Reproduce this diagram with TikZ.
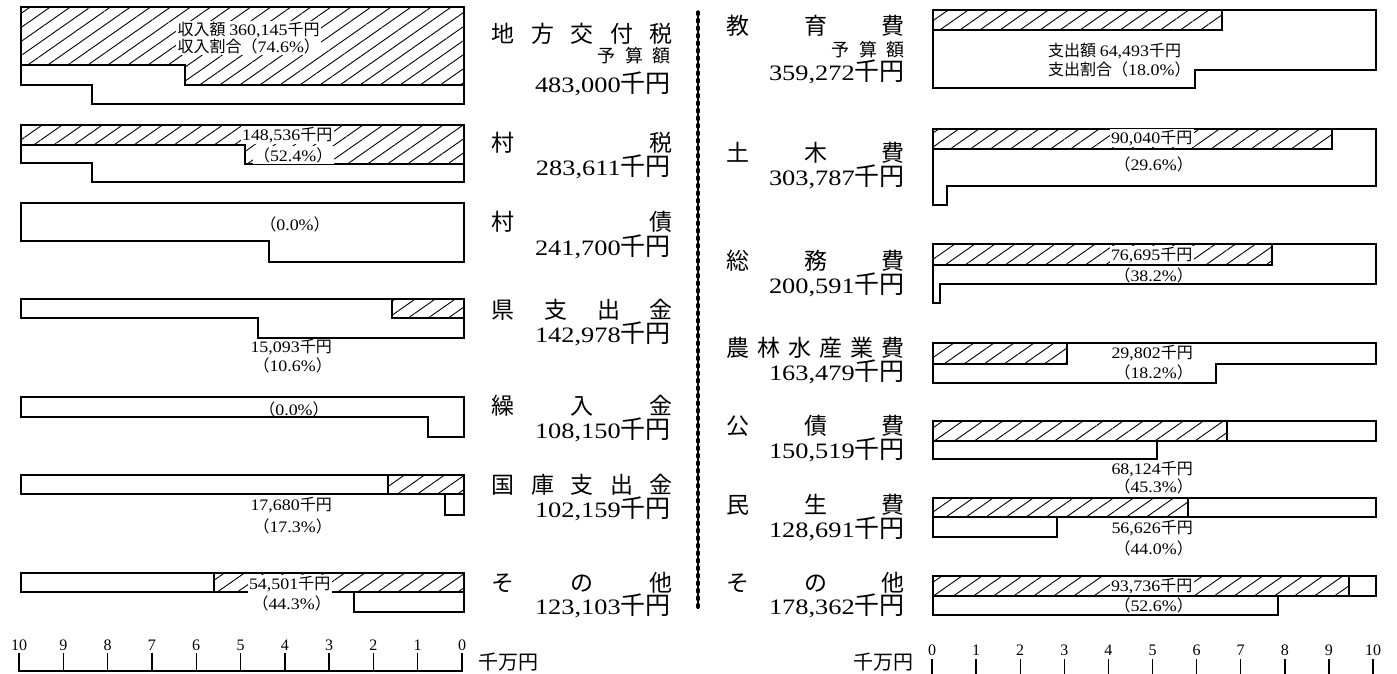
\documentclass[tikz,border=0pt]{standalone}
\usepackage{fontspec}
\setmainfont{Liberation Serif}
\newfontfamily\jp{Noto Sans CJK JP}
\newfontfamily\dg[FakeStretch=1.2]{Liberation Serif}
\newfontfamily\dgs[FakeStretch=1.12]{Liberation Serif}
\usetikzlibrary{patterns.meta}
\newcommand\BigAmt[1]{{\fontsize{22}{24}\selectfont\dg #1}{\fontsize{25}{27}\selectfont\jp 千円}}
\newcommand\SmAmt[1]{{\fontsize{16}{18}\selectfont\dgs #1}{\fontsize{16}{18}\selectfont\jp 千円}}
\newcommand\SmPct[1]{{\fontsize{16}{18}\selectfont\jp （}{\fontsize{16}{18}\selectfont\dgs #1\%}{\fontsize{16}{18}\selectfont\jp ）}}
\newcommand\Ttl[2]{\makebox[#1pt]{\fontsize{23}{25}\selectfont\jp #2}}
\newcommand\Yosan{\makebox[73pt]{\fontsize{18}{20}\selectfont\jp 予\hfill 算\hfill 額}}
\tikzset{
  bar/.style={draw, line width=1.5pt, line join=miter},
  hat/.style={draw, line width=1.5pt, line join=miter, pattern={Lines[angle=35,distance=11.5pt,line width=0.9pt]}},
  ttl/.style={inner sep=0pt, anchor=east},
  sm/.style={inner sep=1pt},
  smw/.style={inner sep=1.5pt, fill=white},
  axn/.style={inner sep=0pt, font=\fontsize{16}{18}\selectfont},
  tick/.style={line width=1.4pt},
}
\begin{document}
\begin{tikzpicture}[x=1pt,y=-1pt]
\useasboundingbox (0,0) rectangle (1397,674);
% ---------------- left (revenue) bars ----------------
\path[hat] (21,7) -- (464,7) -- (464,85) -- (185,85) -- (185,65) -- (21,65) -- cycle;
\draw[bar] (21,7) -- (464,7) -- (464,104) -- (92,104) -- (92,85) -- (21,85) -- cycle;
\path[hat] (21,125) -- (464,125) -- (464,164) -- (245,164) -- (245,145) -- (21,145) -- cycle;
\draw[bar] (21,125) -- (464,125) -- (464,182) -- (92,182) -- (92,163) -- (21,163) -- cycle;
\draw[bar] (21,203) -- (464,203) -- (464,262) -- (269,262) -- (269,241) -- (21,241) -- cycle;
\path[hat] (392,299) rectangle (464,318);
\draw[bar] (21,299) -- (464,299) -- (464,338) -- (258,338) -- (258,318) -- (21,318) -- cycle;
\draw[bar] (21,397) -- (464,397) -- (464,437) -- (428,437) -- (428,417) -- (21,417) -- cycle;
\path[hat] (388,475) rectangle (464,494);
\draw[bar] (21,475) -- (464,475) -- (464,515) -- (445,515) -- (445,494) -- (21,494) -- cycle;
\path[hat] (214,573) rectangle (464,592);
\draw[bar] (21,573) -- (464,573) -- (464,612) -- (354,612) -- (354,592) -- (21,592) -- cycle;
% left bar labels
\node[smw, anchor=west] (L1a) at (176,30) {{\fontsize{16}{18}\selectfont\jp 収入額 }\SmAmt{360,145}};
\node[smw, anchor=west] (L1p) at (176,46) {{\fontsize{16}{18}\selectfont\jp 収入割合}\SmPct{74.6}};
\node[smw, anchor=east] (L2a) at (334,135) {\SmAmt{148,536}};
\node[smw, anchor=east] (L2p) at (334,155) {\SmPct{52.4}};
\node[sm] (L3p) at (295,224) {\SmPct{0.0}};
\node[sm, anchor=east] (L4a) at (333,347) {\SmAmt{15,093}};
\node[sm, anchor=east] (L4p) at (333,365) {\SmPct{10.6}};
\node[sm] (L5p) at (294,409) {\SmPct{0.0}};
\node[sm, anchor=east] (L6a) at (333,505) {\SmAmt{17,680}};
\node[sm, anchor=east] (L6p) at (333,526) {\SmPct{17.3}};
\node[smw, anchor=east] (L7a) at (332,584) {\SmAmt{54,501}};
\node[sm, anchor=east] (L7p) at (332,603) {\SmPct{44.3}};
% ---------------- left (revenue) names ----------------
\node[ttl] (L1n) at (673,34) {\Ttl{181}{地\hfill 方\hfill 交\hfill 付\hfill 税}};
\node[ttl] (L1y) at (671,56) {\Yosan};
\node[ttl] (L1m) at (671,84) {\BigAmt{483,000}};
\node[ttl] (L2n) at (673,143) {\Ttl{181}{村\hfill 税}};
\node[ttl] (L2m) at (671,167) {\BigAmt{283,611}};
\node[ttl] (L3n) at (673,222) {\Ttl{181}{村\hfill 債}};
\node[ttl] (L3m) at (671,247) {\BigAmt{241,700}};
\node[ttl] (L4n) at (673,310) {\Ttl{181}{県\hfill 支\hfill 出\hfill 金}};
\node[ttl] (L4m) at (671,334) {\BigAmt{142,978}};
\node[ttl] (L5n) at (673,406) {\Ttl{181}{繰\hfill 入\hfill 金}};
\node[ttl] (L5m) at (671,430) {\BigAmt{108,150}};
\node[ttl] (L6n) at (673,485) {\Ttl{181}{国\hfill 庫\hfill 支\hfill 出\hfill 金}};
\node[ttl] (L6m) at (671,509) {\BigAmt{102,159}};
\node[ttl] (L7n) at (673,583) {\Ttl{181}{そ\hfill の\hfill 他}};
\node[ttl] (L7m) at (671,606) {\BigAmt{123,103}};
% ---------------- divider ----------------
\coordinate (d1) at (698,12);
\coordinate (d2) at (698,609);
\draw[line width=1.1pt] (d1) -- (d2);
\draw[line width=3.4pt, line cap=round, dash pattern=on 2.5pt off 5pt] (d1) -- (d2);
% ---------------- right (expenditure) names ----------------
\node[ttl] (R1n) at (905,26) {\Ttl{178}{教\hfill 育\hfill 費}};
\node[ttl] (R1y) at (905,50) {\Yosan};
\node[ttl] (R1m) at (905,72) {\BigAmt{359,272}};
\node[ttl] (R2n) at (905,153) {\Ttl{178}{土\hfill 木\hfill 費}};
\node[ttl] (R2m) at (905,177) {\BigAmt{303,787}};
\node[ttl] (R3n) at (905,261) {\Ttl{178}{総\hfill 務\hfill 費}};
\node[ttl] (R3m) at (905,285) {\BigAmt{200,591}};
\node[ttl] (R4n) at (905,348) {\Ttl{178}{農\hfill 林\hfill 水\hfill 産\hfill 業\hfill 費}};
\node[ttl] (R4m) at (905,372) {\BigAmt{163,479}};
\node[ttl] (R5n) at (905,426) {\Ttl{178}{公\hfill 債\hfill 費}};
\node[ttl] (R5m) at (905,450) {\BigAmt{150,519}};
\node[ttl] (R6n) at (905,505) {\Ttl{178}{民\hfill 生\hfill 費}};
\node[ttl] (R6m) at (905,529) {\BigAmt{128,691}};
\node[ttl] (R7n) at (905,583) {\Ttl{178}{そ\hfill の\hfill 他}};
\node[ttl] (R7m) at (905,606) {\BigAmt{178,362}};
% ---------------- right (expenditure) bars ----------------
\path[hat] (933,10) rectangle (1222,30);
\draw[bar] (933,10) -- (1376,10) -- (1376,70) -- (1195,70) -- (1195,88) -- (933,88) -- cycle;
\path[hat] (933,129) rectangle (1332,149);
\draw[bar] (933,129) -- (1376,129) -- (1376,186) -- (947,186) -- (947,205) -- (933,205) -- cycle;
\path[hat] (933,244) rectangle (1272,265);
\draw[bar] (933,244) -- (1376,244) -- (1376,284) -- (940,284) -- (940,303) -- (933,303) -- cycle;
\path[hat] (933,343) rectangle (1067,364);
\draw[bar] (933,343) -- (1376,343) -- (1376,364) -- (1216,364) -- (1216,383) -- (933,383) -- cycle;
\path[hat] (933,421) rectangle (1227,441);
\draw[bar] (933,421) -- (1376,421) -- (1376,441) -- (1157,441) -- (1157,459) -- (933,459) -- cycle;
\path[hat] (933,498) rectangle (1188,517);
\draw[bar] (933,498) -- (1376,498) -- (1376,517) -- (1057,517) -- (1057,537) -- (933,537) -- cycle;
\path[hat] (933,576) rectangle (1349,596);
\draw[bar] (933,576) -- (1376,576) -- (1376,596) -- (1278,596) -- (1278,615) -- (933,615) -- cycle;
% right bar labels
\node[sm, anchor=west] (R1a) at (1047,51) {{\fontsize{16}{18}\selectfont\jp 支出額 }\SmAmt{64,493}};
\node[sm, anchor=west] (R1p) at (1047,69) {{\fontsize{16}{18}\selectfont\jp 支出割合}\SmPct{18.0}};
\node[smw, anchor=east] (R2a) at (1194,138) {\SmAmt{90,040}};
\node[sm, anchor=east] (R2p) at (1194,164) {\SmPct{29.6}};
\node[smw, anchor=east] (R3a) at (1194,255) {\SmAmt{76,695}};
\node[sm, anchor=east] (R3p) at (1194,275) {\SmPct{38.2}};
\node[sm, anchor=east] (R4a) at (1194,353) {\SmAmt{29,802}};
\node[sm, anchor=east] (R4p) at (1194,372) {\SmPct{18.2}};
\node[sm, anchor=east] (R5a) at (1194,469) {\SmAmt{68,124}};
\node[sm, anchor=east] (R5p) at (1194,486) {\SmPct{45.3}};
\node[sm, anchor=east] (R6a) at (1194,528) {\SmAmt{56,626}};
\node[sm, anchor=east] (R6p) at (1194,548) {\SmPct{44.0}};
\node[smw, anchor=east] (R7a) at (1194,586) {\SmAmt{93,736}};
\node[sm, anchor=east] (R7p) at (1194,605) {\SmPct{52.6}};
% ---------------- axes ----------------
\foreach \k in {0,...,10} {
  \node[axn] (la\k) at ({462-44.3*\k},645) {\k};
  \draw[tick] ({462-44.3*\k},653) -- ({462-44.3*\k},671);
  \node[axn] (ra\k) at ({932+44.1*\k},650) {\k};
  \draw[tick] ({932+44.1*\k},659) -- ({932+44.1*\k},674);
}
\coordinate (lb0) at (462.7,671);
\coordinate (lb10) at (18.3,671);
\draw[tick] (lb0) -- (lb10);
\node[inner sep=0pt] (lu) at (508,662) {\fontsize{20}{22}\selectfont\jp 千万円};
\node[inner sep=0pt] (ru) at (883,662) {\fontsize{20}{22}\selectfont\jp 千万円};
\end{tikzpicture}
\end{document}
